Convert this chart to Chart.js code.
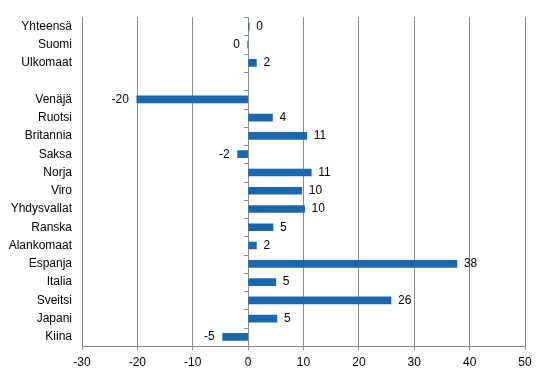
<!DOCTYPE html>
<html>
<head>
<meta charset="utf-8">
<script src="https://cdn.jsdelivr.net/npm/chart.js@4"></script>
<style>
  html, body { margin: 0; padding: 0; background: #fff; }
  #wrap { width: 546px; height: 376px; }
</style>
</head>
<body>
<div id="wrap"><canvas id="my_chart" width="546" height="376"></canvas></div>
<script>
// categories, top to bottom (empty one is the gap row)
const categories = ["Yhteensä", "Suomi", "Ulkomaat", "", "Venäjä", "Ruotsi", "Britannia", "Saksa", "Norja",
    "Viro", "Yhdysvallat", "Ranska", "Alankomaat", "Espanja", "Italia", "Sveitsi", "Japani", "Kiina"];
const changeValues = [0.2, -0.03, 1.5, null, -20.1, 4.4, 10.6, -1.9, 11.4,
    9.7, 10.2, 4.5, 1.5, 37.7, 5.0, 25.8, 5.2, -4.6];
const xTicks = [-30, -20, -10, 0, 10, 20, 30, 40, 50];

const gridGrey = '#8c8c8c';
const font = { family: "'Liberation Sans', Arial, sans-serif", size: 12 };

// value labels next to bars + small tick marks on the zero line
const barLabels = {
    id: 'barLabels',
    afterDatasetsDraw(chart) {
        const ctx = chart.ctx;
        const x = chart.scales.x;
        const y = chart.scales.y;
        const x0 = x.getPixelForValue(0);

        ctx.save();
        ctx.strokeStyle = gridGrey;
        ctx.lineWidth = 1;
        const step = (y.bottom - y.top) / categories.length;
        for (let i = 0; i <= categories.length; i++) {
            const yy = Math.round(y.top + i * step) + 0.5;
            ctx.beginPath();
            ctx.moveTo(x0 - 4, yy);
            ctx.lineTo(x0, yy);
            ctx.stroke();
        }

        ctx.fillStyle = '#000';
        ctx.font = font.size + 'px ' + font.family;
        ctx.textBaseline = 'middle';
        const meta = chart.getDatasetMeta(0);
        meta.data.forEach((bar, i) => {
            const v = changeValues[i];
            if (v === null) return;
            const txt = String(Math.round(v));
            if (v >= 0) {
                ctx.textAlign = 'left';
                ctx.fillText(txt, bar.x + 7, bar.y);
            } else {
                ctx.textAlign = 'right';
                ctx.fillText(txt, bar.x - 8, bar.y);
            }
        });
        ctx.restore();
    }
};

const ctx = document.getElementById('my_chart');

new Chart(ctx, {
    type: 'bar',
    data: {
        labels: categories,
        datasets: [{
            data: changeValues,
            backgroundColor: '#1a67b0',
            barThickness: 7
        }]
    },
    options: {
        indexAxis: 'y',
        responsive: false,
        animation: false,
        layout: { padding: { top: 14, right: 21, left: 0, bottom: 0 } },
        plugins: {
            legend: { display: false },
            tooltip: { enabled: false }
        },
        scales: {
            x: {
                min: -30,
                max: 50,
                afterBuildTicks: s => { s.ticks = xTicks.map(v => ({ value: v })); },
                ticks: { color: '#000', font: font, padding: 5, maxRotation: 0 },
                grid: { color: gridGrey, tickLength: 4, tickColor: gridGrey },
                border: { color: gridGrey },
                afterFit: s => { s.height = 30; }
            },
            y: {
                ticks: { color: '#000', font: font, padding: 10, autoSkip: false },
                grid: { display: false, drawTicks: false },
                border: { display: false },
                afterFit: s => { s.width = 82; }
            }
        }
    },
    plugins: [barLabels]
});
</script>
</body>
</html>
